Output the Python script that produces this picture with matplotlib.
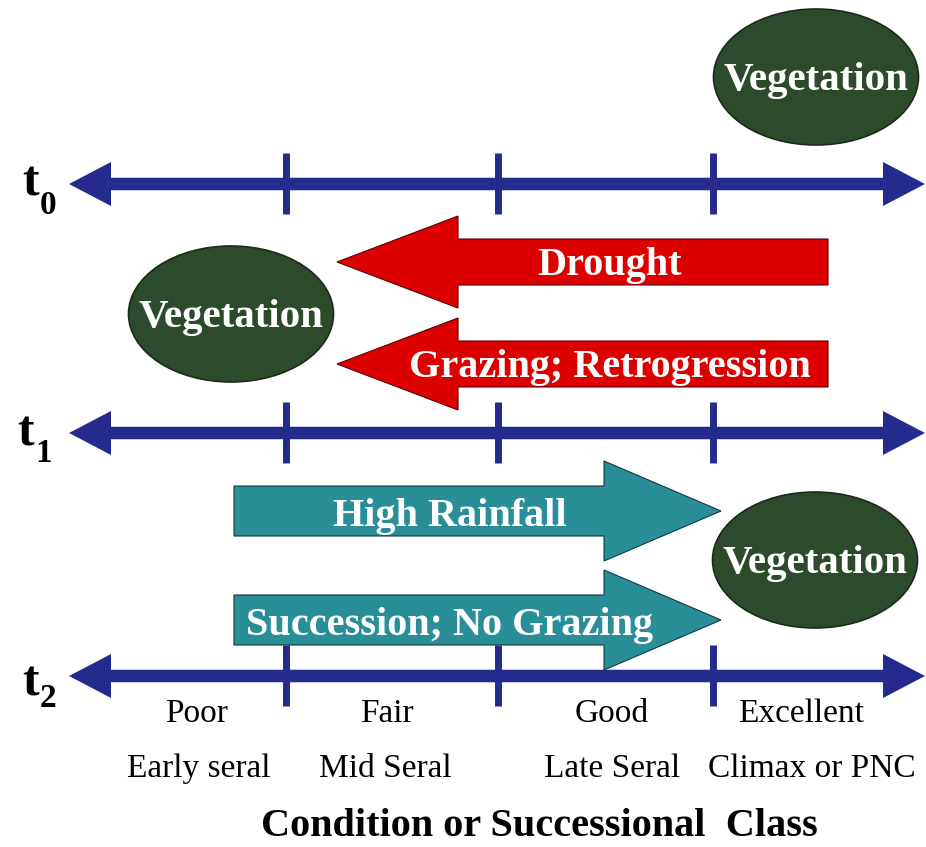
import matplotlib
matplotlib.use('Agg')
import matplotlib.pyplot as plt
from matplotlib.patches import Ellipse, FancyArrow

plt.rcParams['font.family'] = ['Liberation Serif', 'DejaVu Serif']

# diagram content
time_steps = ['0', '1', '2']
class_names = ['Poor', 'Fair', 'Good', 'Excellent']
seral_names = ['Early seral', 'Mid Seral', 'Late Seral', 'Climax or PNC']
retro_labels = ['Drought', 'Grazing; Retrogression']
succ_labels = ['High Rainfall', 'Succession; No Grazing']
axis_title = 'Condition or Successional  Class'

# layout (pixel coordinates, y downwards)
line_y = [184, 433, 676]
t_x = [22, 17, 22]
t_base = [195, 445, 695]
sub_base = [214, 462, 707]
x_left, x_right = 69, 925
bounds = [286, 498, 713]
class_x = [197, 387, 612, 801]
seral_x = [199, 385, 612, 812]
veg_pos = [(816, 77), (231, 314), (815, 560)]
retro_y = [262, 364]
succ_y = [511, 620]

blue = '#242b8c'
red = '#dd0000'
teal = '#2a8e99'
green = '#2e4a2c'

fig = plt.figure(figsize=(9.26, 8.47), dpi=100)
ax = fig.add_axes([0, 0, 1, 1])
ax.set_xlim(0, 926)
ax.set_ylim(847, 0)
ax.axis('off')

# time lines
mid = (x_left + x_right) / 2
for i, y in enumerate(line_y):
    for tip in (x_left, x_right):
        ax.add_patch(FancyArrow(mid, y, tip - mid, 0, width=12.5, head_width=44,
                                head_length=42, length_includes_head=True,
                                fc=blue, ec='none'))
    for b in bounds:
        ax.plot([b, b], [y - 31, y + 30], color=blue, lw=5, solid_capstyle='butt')
    ax.text(t_x[i], t_base[i], 't', fontsize=36, fontweight='bold', ha='left', va='baseline')
    ax.text(t_x[i] + 18, sub_base[i], time_steps[i], fontsize=24, fontweight='bold',
            ha='left', va='baseline')

# vegetation ellipses
for cx, cy in veg_pos:
    ax.add_patch(Ellipse((cx, cy), 205, 136, fc=green, ec='#1b2a19', lw=1.2))
    ax.text(cx, cy + 13, 'Vegetation', fontsize=29.5, fontweight='bold', color='white',
            ha='center', va='baseline')

# retrogression arrows (red, pointing left)
for y, lab in zip(retro_y, retro_labels):
    ax.add_patch(FancyArrow(828, y, 337 - 828, 0, width=46, head_width=92,
                            head_length=121, length_includes_head=True,
                            fc=red, ec='#5a0000', lw=0.8))
    ax.text(610, y + 13, lab, fontsize=29, fontweight='bold', color='white',
            ha='center', va='baseline')

# succession arrows (teal, pointing right)
for y, lab in zip(succ_y, succ_labels):
    ax.add_patch(FancyArrow(234, y, 721 - 234, 0, width=50, head_width=100,
                            head_length=117, length_includes_head=True,
                            fc=teal, ec='#0f3a40', lw=0.8))
    ax.text(450, y + 15, lab, fontsize=29, fontweight='bold', color='white',
            ha='center', va='baseline')

# class labels
for x, c in zip(class_x, class_names):
    ax.text(x, 722, c, fontsize=24, ha='center', va='baseline')
for x, s in zip(seral_x, seral_names):
    ax.text(x, 777, s, fontsize=24, ha='center', va='baseline')

ax.text(539, 836, axis_title, fontsize=29, fontweight='bold', ha='center', va='baseline')

fig.savefig('out.png', dpi=100)
